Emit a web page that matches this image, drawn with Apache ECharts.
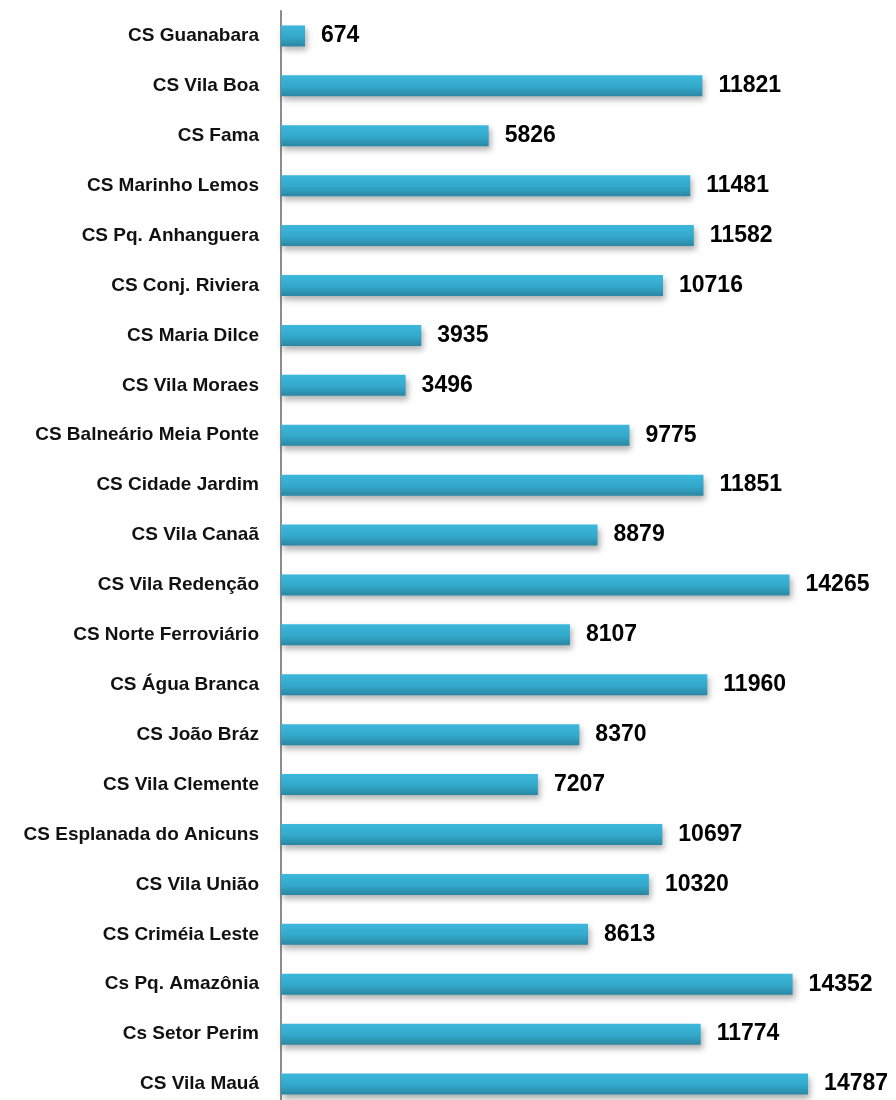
<!DOCTYPE html>
<html>
<head>
<meta charset="utf-8">
<title>CS</title>
<script src="https://cdn.jsdelivr.net/npm/echarts@6/dist/echarts.min.js"></script>
<style>
    html, body { margin: 0; padding: 0; background: #fff; }
    #chart_cs { width: 896px; height: 1100px; }
</style>
</head>
<body>
<div id="chart_cs"></div>
<script>
// unidades, de cima para baixo
var unidades = ['CS Guanabara', 'CS Vila Boa', 'CS Fama', 'CS Marinho Lemos', 'CS Pq. Anhanguera',
    'CS Conj. Riviera', 'CS Maria Dilce', 'CS Vila Moraes', 'CS Balneário Meia Ponte', 'CS Cidade Jardim',
    'CS Vila Canaã', 'CS Vila Redenção', 'CS Norte Ferroviário', 'CS Água Branca', 'CS João Bráz',
    'CS Vila Clemente', 'CS Esplanada do Anicuns', 'CS Vila União', 'CS Criméia Leste', 'Cs Pq. Amazônia',
    'Cs Setor Perim', 'CS Vila Mauá'];
var valores = [674, 11821, 5826, 11481, 11582, 10716, 3935, 3496, 9775, 11851,
    8879, 14265, 8107, 11960, 8370, 7207, 10697, 10320, 8613, 14352, 11774, 14787];

var fonte = '"Liberation Sans", Arial, sans-serif';

var chart_cs = echarts.init(document.getElementById('chart_cs'));
chart_cs.setOption({
    animation: false,
    grid: {
        top: 11,
        left: 281,
        width: 606,
        height: 1098,
        containLabel: false,
        outerBoundsMode: 'none'
    },
    xAxis: {
        type: 'value',
        min: 0,
        max: 17000,
        show: false,
        splitLine: { show: false }
    },
    yAxis: {
        type: 'category',
        inverse: true,
        data: unidades,
        axisLine: {
            lineStyle: { color: '#8c8c8c', width: 2 }
        },
        axisTick: {
            length: 5,
            lineStyle: { color: '#8c8c8c', width: 2 }
        },
        axisLabel: {
            margin: 22,
            color: '#111',
            fontFamily: fonte,
            fontWeight: 'bold',
            fontSize: 19
        }
    },
    series: [
        {
            type: 'bar',
            data: valores,
            barWidth: 21,
            itemStyle: {
                color: new echarts.graphic.LinearGradient(0, 0, 0, 1, [
                    { offset: 0, color: '#3cb8dc' },
                    { offset: 0.55, color: '#33a8ca' },
                    { offset: 1, color: '#2a87a3' }
                ]),
                shadowColor: 'rgba(0,0,0,0.3)',
                shadowBlur: 6,
                shadowOffsetX: 2,
                shadowOffsetY: 4
            },
            label: {
                show: true,
                position: 'right',
                distance: 16,
                color: '#000',
                fontFamily: fonte,
                fontWeight: 'bold',
                fontSize: 23
            }
        }
    ]
});
</script>
</body>
</html>
